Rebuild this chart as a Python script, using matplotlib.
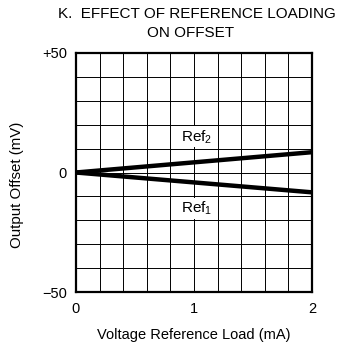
import matplotlib
matplotlib.use("Agg")
import matplotlib.pyplot as plt
import numpy as np

plt.rcParams['font.family'] = ['Liberation Sans', 'DejaVu Sans']
plt.rcParams['mathtext.fontset'] = 'custom'
plt.rcParams['mathtext.rm'] = 'Liberation Sans'

load_ma = [0.0, 2.0]
ref2_mv = [0.0, 8.5]
ref1_mv = [0.0, -8.3]
x_ticks = [0, 1, 2]
x_tick_labels = ["0", "1", "2"]
y_ticks = [-50, 0, 50]
y_tick_labels = ["\u221250", "0", "+50"]

W, H = 345, 347
fig = plt.figure(figsize=(W / 100, H / 100), dpi=100)
ax = fig.add_axes([76 / W, 1 - 292 / H, 236 / W, 239 / H])

ax.set_xlim(0, 2)
ax.set_ylim(-50, 50)

# grid
for xv in np.arange(0.2, 2.0, 0.2):
    ax.axvline(xv, color='black', lw=0.7, zorder=1)
for yv in np.arange(-40, 50, 10):
    ax.axhline(yv, color='black', lw=0.7, zorder=1)

ax.plot(load_ma, ref2_mv, color='black', lw=3.2, solid_capstyle='butt', zorder=3)
ax.plot(load_ma, ref1_mv, color='black', lw=3.2, solid_capstyle='butt', zorder=3)

ax.text(1.02, 15, "Ref$_\\mathrm{2}$", ha='center', va='center', fontsize=11,
        bbox=dict(facecolor='white', edgecolor='none', pad=1), zorder=4)
ax.text(1.02, -15, "Ref$_\\mathrm{1}$", ha='center', va='center', fontsize=11,
        bbox=dict(facecolor='white', edgecolor='none', pad=1), zorder=4)

for s in ax.spines.values():
    s.set_linewidth(1.6)

ax.set_xticks(x_ticks)
ax.set_xticklabels(x_tick_labels, fontsize=10.5)
ax.set_yticks(y_ticks)
ax.set_yticklabels(y_tick_labels, fontsize=10.5)
ax.tick_params(axis='y', length=0, pad=6.5)
ax.tick_params(axis='x', length=0, pad=7)

fig.text(194 / W, 1 - 339 / H, "Voltage Reference Load (mA)", ha='center',
         va='baseline', fontsize=10.5)
fig.text(17 / W, 1 - 185 / H, "Output Offset (mV)", ha='center', va='center',
         rotation=90, fontsize=10.8)

fig.text(197 / W, 1 - 18 / H, "K.  EFFECT OF REFERENCE LOADING", ha='center',
         va='baseline', fontsize=11)
fig.text(191 / W, 1 - 37 / H, "ON OFFSET", ha='center', va='baseline', fontsize=11)

fig.savefig("out.png", dpi=100)
